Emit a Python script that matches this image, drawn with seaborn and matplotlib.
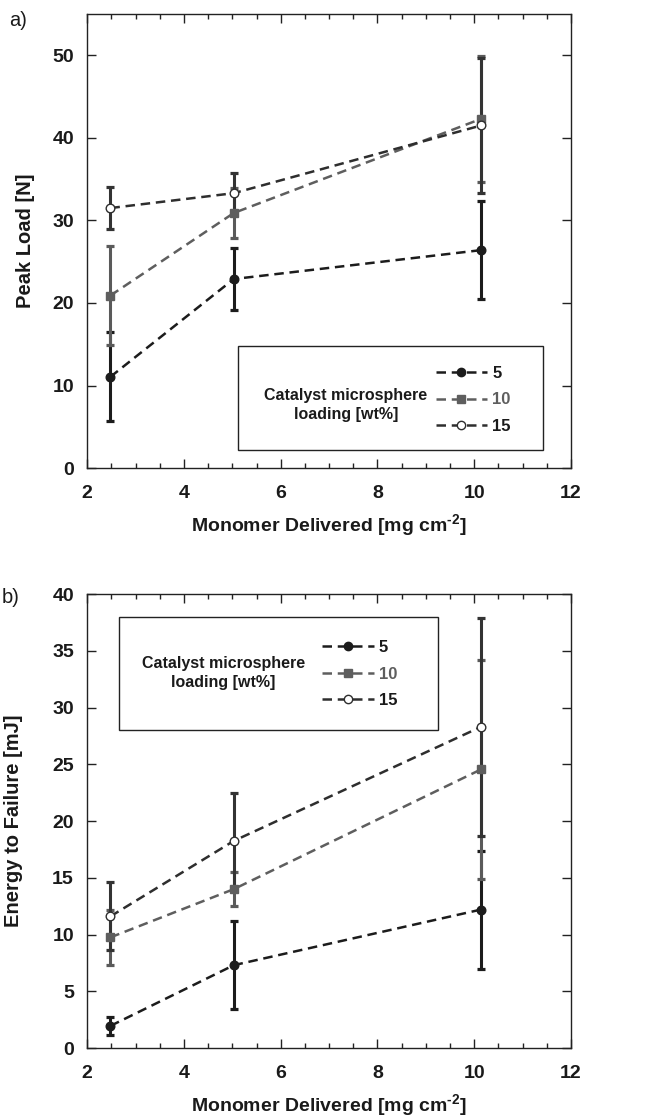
import numpy as np
import pandas as pd
import matplotlib
matplotlib.use("Agg")
import matplotlib.pyplot as plt
from matplotlib.lines import Line2D
from matplotlib.patches import Rectangle
from matplotlib.ticker import MultipleLocator
import seaborn as sns

# ---------------- data ----------------
monomer = [2.48, 5.03, 10.14]
loadings = ["5", "10", "15"]

peak_5 = [11.05, 22.9, 26.4]
peak_5_err = [5.4, 3.8, 5.9]
peak_10 = [20.9, 30.9, 42.3]
peak_10_err = [5.95, 3.0, 7.6]
peak_15 = [31.5, 33.3, 41.5]
peak_15_err = [2.6, 2.5, 8.2]

energy_5 = [1.95, 7.3, 12.2]
energy_5_err = [0.8, 3.9, 5.2]
energy_10 = [9.75, 14.0, 24.55]
energy_10_err = [2.4, 1.5, 9.65]
energy_15 = [11.6, 18.25, 28.3]
energy_15_err = [3.0, 4.2, 9.6]

# ---------------- style ----------------
sns.set_theme(style="white")
plt.rcParams["font.family"] = ["Liberation Sans", "DejaVu Sans"]
plt.rcParams["mathtext.fontset"] = "custom"
plt.rcParams["mathtext.rm"] = "Liberation Sans:bold"
plt.rcParams["mathtext.bf"] = "Liberation Sans:bold"
plt.rcParams["mathtext.default"] = "bf"

line_colors = {"5": "#1c1c1c", "10": "#5e5e5e", "15": "#2e2e2e"}
err_colors = {"5": "#1c1c1c", "10": "#5a5a5a", "15": "#333333"}
markers = {"5": "o", "10": "s", "15": "o"}
msizes = {"5": 6.2, "10": 6.2, "15": 6.2}
mfaces = {"5": "#1c1c1c", "10": "#5e5e5e", "15": "white"}
dash = (0, (3.8, 2.3))

fig = plt.figure(figsize=(6.53, 11.16), dpi=100)
ax1 = fig.add_axes([0.1335, 0.5806, 0.741, 0.4068])
ax2 = fig.add_axes([0.1335, 0.0609, 0.741, 0.4068])


def draw_panel(ax, means, errs):
    # error bars first
    for lab in loadings:
        ax.errorbar(monomer, means[lab], yerr=errs[lab], fmt="none",
                    ecolor=err_colors[lab], elinewidth=2.2, capsize=3.2,
                    capthick=2.3, zorder=2)
    for lab in loadings:
        df = pd.DataFrame({"x": monomer, "y": means[lab]})
        sns.lineplot(data=df, x="x", y="y", ax=ax, color=line_colors[lab],
                     linewidth=1.8, linestyle=dash, marker=markers[lab],
                     markersize=msizes[lab], markerfacecolor=mfaces[lab],
                     markeredgecolor=line_colors[lab], markeredgewidth=1.0,
                     errorbar=None, zorder=3, legend=False)


def style_axes(ax, ymax, ystep):
    ax.set_xlim(2, 12)
    ax.set_ylim(0, ymax)
    ax.xaxis.set_major_locator(MultipleLocator(2))
    ax.xaxis.set_minor_locator(MultipleLocator(0.5))
    ax.yaxis.set_major_locator(MultipleLocator(ystep))
    ax.tick_params(axis="both", which="both", direction="in", top=True,
                   right=True, bottom=True, left=True, color="#222222")
    ax.tick_params(axis="both", which="major", length=6.5, width=1.0,
                   pad=9.5, labelsize=14)
    ax.tick_params(axis="x", which="major", pad=12.5)
    ax.tick_params(axis="x", which="minor", length=3.5, width=1.0)
    for lbl in ax.get_xticklabels() + ax.get_yticklabels():
        lbl.set_fontweight("bold")
        lbl.set_color("#1a1a1a")
    for sp in ax.spines.values():
        sp.set_color("#222222")
        sp.set_linewidth(1.0)
    ax.set_xlabel(r"Monomer Delivered [mg cm$^{\text{-2}}$]", fontsize=14,
                  fontweight="bold", color="#1a1a1a")
    ax.xaxis.set_label_coords(0.5, -0.097)


def add_legend(ax, box, title_xy, anchor):
    x0, y0, x1, y1 = box
    ax.add_patch(Rectangle((x0, y0), x1 - x0, y1 - y0, fill=False,
                           edgecolor="#222222", linewidth=1.0, zorder=4))
    ax.text(title_xy[0], title_xy[1], "Catalyst microsphere\nloading [wt%]",
            ha="center", va="center", fontsize=11.5, fontweight="bold",
            color="#1a1a1a", linespacing=1.3, zorder=5)
    handles = []
    for lab in loadings:
        handles.append(Line2D([], [], color=line_colors[lab], linewidth=1.8,
                              linestyle=dash, marker=markers[lab],
                              markersize=6.0, markerfacecolor=mfaces[lab],
                              markeredgecolor=line_colors[lab],
                              markeredgewidth=1.0))
    leg = ax.legend(handles, loadings, loc="center left",
                    bbox_to_anchor=anchor, bbox_transform=ax.transData,
                    frameon=False, borderpad=0, borderaxespad=0,
                    handlelength=3.1, handletextpad=0.3, labelspacing=0.68,
                    numpoints=1, prop={"weight": "bold", "size": 12})
    for txt, lab in zip(leg.get_texts(), loadings):
        txt.set_color(line_colors[lab] if lab == "10" else "#1a1a1a")
    leg.set_zorder(5)


# ---------------- panel a ----------------
draw_panel(ax1, {"5": peak_5, "10": peak_10, "15": peak_15},
           {"5": peak_5_err, "10": peak_10_err, "15": peak_15_err})
style_axes(ax1, 55, 10)
ax1.set_ylabel("Peak Load [N]", fontsize=14.5, fontweight="bold",
               color="#1a1a1a")
ax1.yaxis.set_label_coords(-0.108, 0.5)
add_legend(ax1, (5.12, 2.15, 11.42, 14.8), (7.35, 7.65), (9.2, 8.25))
fig.text(0.014, 0.982, "a)", fontsize=14.5, color="#1a1a1a", ha="left",
         va="center")

# ---------------- panel b ----------------
draw_panel(ax2, {"5": energy_5, "10": energy_10, "15": energy_15},
           {"5": energy_5_err, "10": energy_10_err, "15": energy_15_err})
style_axes(ax2, 40, 5)
ax2.set_ylabel("Energy to Failure [mJ]", fontsize=14.5, fontweight="bold",
               color="#1a1a1a")
ax2.yaxis.set_label_coords(-0.132, 0.5)
add_legend(ax2, (2.65, 28.0, 9.26, 38.0), (4.82, 33.05), (6.85, 32.95))
fig.text(0.002, 0.465, "b)", fontsize=14.5, color="#1a1a1a", ha="left",
         va="center")

fig.savefig("out.png", dpi=100)
